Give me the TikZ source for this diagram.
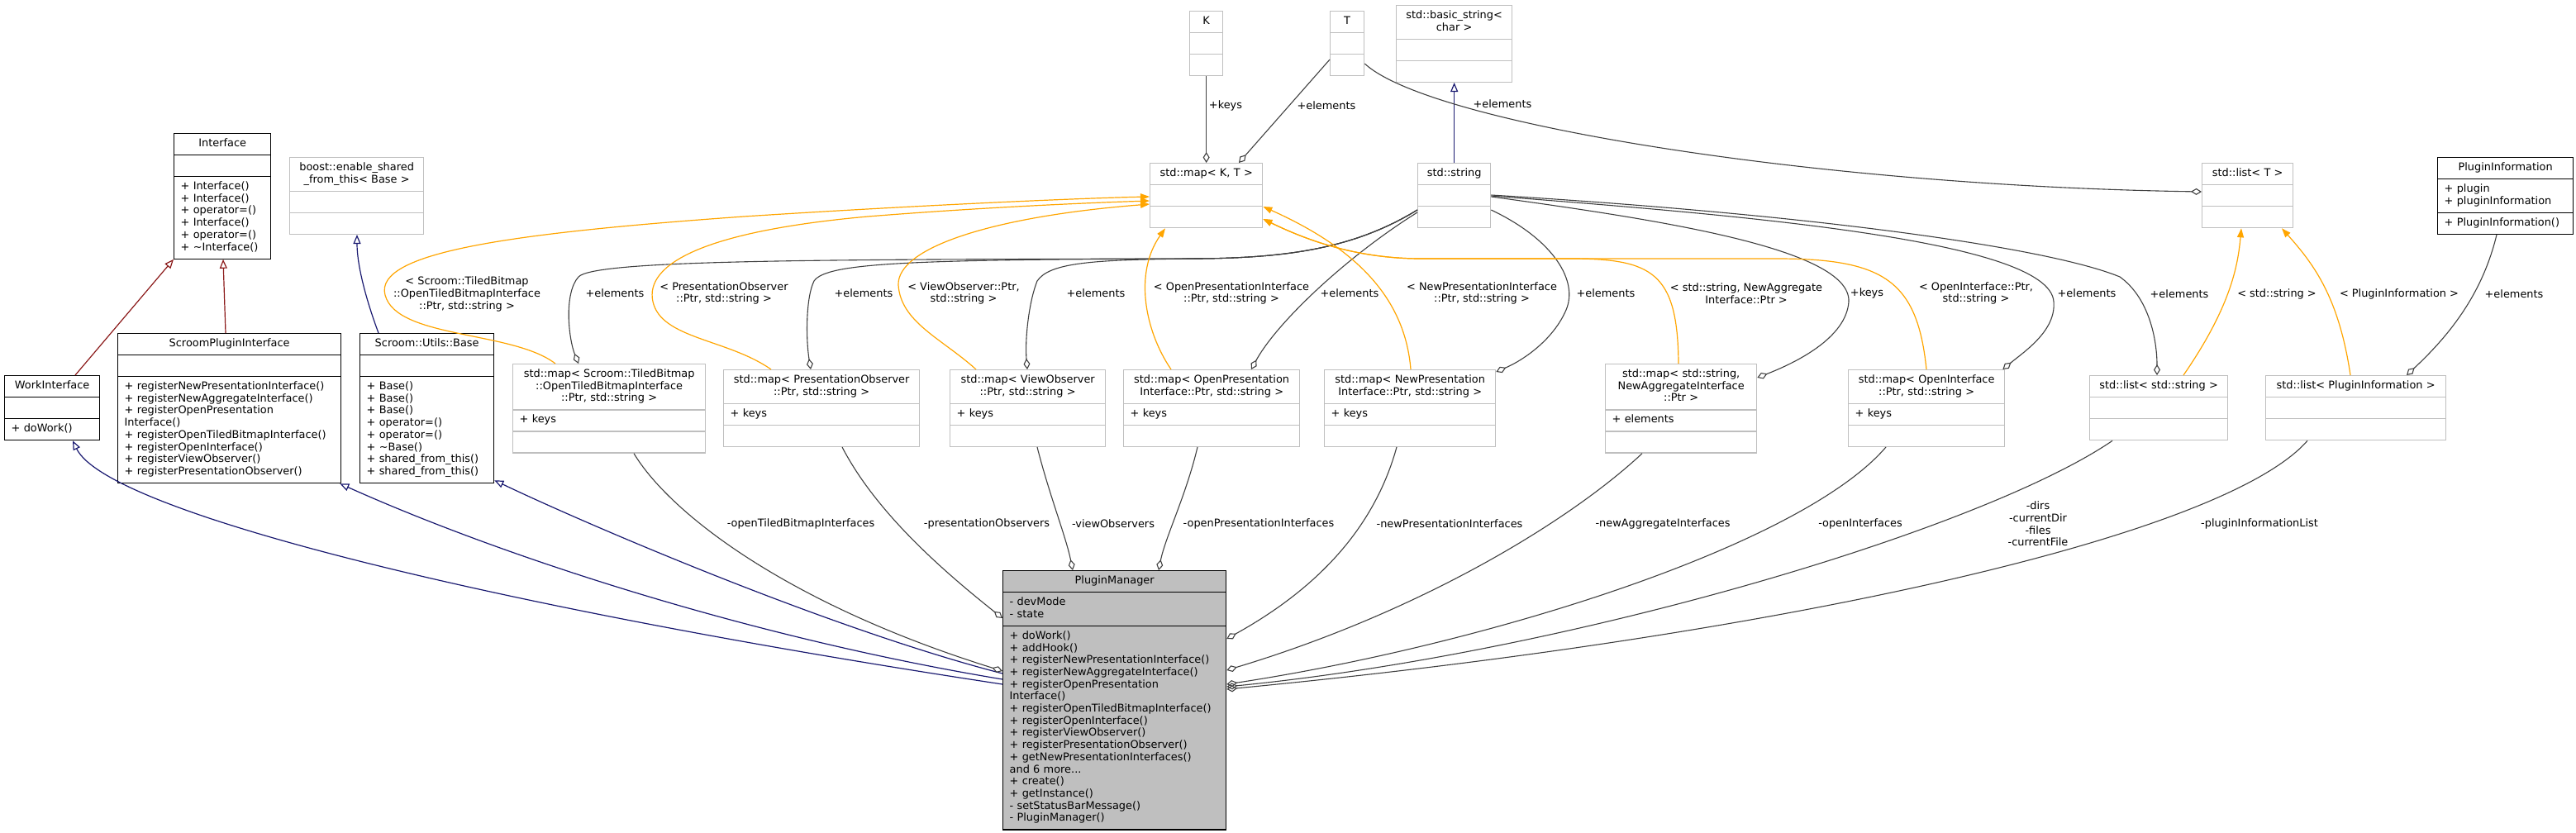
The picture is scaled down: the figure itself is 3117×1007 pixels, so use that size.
\documentclass[tikz,border=0pt]{standalone}
\usepackage{fontspec}
\setmainfont{DejaVu Sans}
\usetikzlibrary{shapes.multipart, arrows.meta, calc}
\definecolor{edgeGrey}{HTML}{404040}
\definecolor{boxGrey}{HTML}{BFBFBF}
\definecolor{inhBlue}{HTML}{191970}
\definecolor{inhRed}{HTML}{8B1A1A}
\definecolor{tmplOrange}{HTML}{FFA500}

\begin{document}
\begin{tikzpicture}[x = 1pt, y = -1pt, font = \fontsize{12.9}{14.7}\selectfont]
\tikzset{
  umlclass/.style = {rectangle split, rectangle split parts = 3, draw, line width = 1.3pt, anchor = north west, inner xsep = 8pt, inner ysep = 5pt, align = left},
  extclass/.style = {umlclass, draw = boxGrey},
  mainclass/.style = {umlclass, fill = boxGrey},
  inherit/.style = {draw = inhBlue, line width = 1.2pt, -{Triangle[open, length = 11pt, width = 9pt]}},
  privinherit/.style = {inherit, draw = inhRed},
  usage/.style = {draw = edgeGrey, line width = 1.1pt, -{Diamond[open, length = 13pt, width = 8pt]}},
  tmpl/.style = {draw = tmplOrange, line width = 1.2pt, -{Triangle[length = 11pt, width = 8pt]}},
  lbl/.style = {align = center, inner sep = 0pt},
}
\useasboundingbox (0,0) rectangle (3117,1007);

\node [umlclass, text width = 101pt] (iface) at (210,161) {\centering\strut Interface\strut\par
  \nodepart{two}\strut
  \nodepart{three}\strut + Interface()\\+ Interface()\\+ operator=()\\+ Interface()\\+ operator=()\\+ \textasciitilde Interface()\strut};
\node [extclass, text width = 146pt] (boostEsft) at (350,190) {\centering\strut boost::enable\_shared\\\_from\_this< Base >\strut\par
  \nodepart{two}\strut
  \nodepart{three}\strut};
\node [umlclass, text width = 99pt] (workIface) at (5,454) {\centering\strut WorkInterface\strut\par
  \nodepart{two}\strut
  \nodepart{three}\strut + doWork()\strut};
\node [umlclass, text width = 254pt] (spi) at (142,403) {\centering\strut ScroomPluginInterface\strut\par
  \nodepart{two}\strut
  \nodepart{three}\strut + registerNewPresentationInterface()\\+ registerNewAggregateInterface()\\+ registerOpenPresentation\\Interface()\\+ registerOpenTiledBitmapInterface()\\+ registerOpenInterface()\\+ registerViewObserver()\\+ registerPresentationObserver()\strut};
\node [umlclass, text width = 146pt] (utilsBase) at (435,403) {\centering\strut Scroom::Utils::Base\strut\par
  \nodepart{two}\strut
  \nodepart{three}\strut + Base()\\+ Base()\\+ Base()\\+ operator=()\\+ operator=()\\+ \textasciitilde Base()\\+ shared\_from\_this()\\+ shared\_from\_this()\strut};

\node [extclass, text width = 24pt] (keyK) at (1439,13) {\centering\strut K\strut\par
  \nodepart{two}\strut
  \nodepart{three}\strut};
\node [extclass, text width = 25pt] (valT) at (1609,13) {\centering\strut T\strut\par
  \nodepart{two}\strut
  \nodepart{three}\strut};
\node [extclass, text width = 124pt] (basicString) at (1689,6) {\centering\strut std::basic\_string<\\char >\strut\par
  \nodepart{two}\strut
  \nodepart{three}\strut};
\node [extclass, text width = 120pt] (mapKT) at (1391,197) {\centering\strut std::map< K, T >\strut\par
  \nodepart{two}\strut
  \nodepart{three}\strut};
\node [extclass, text width = 72pt] (stdString) at (1715,197) {\centering\strut std::string\strut\par
  \nodepart{two}\strut
  \nodepart{three}\strut};
\node [extclass, text width = 94pt] (listT) at (2664,197) {\centering\strut std::list< T >\strut\par
  \nodepart{two}\strut
  \nodepart{three}\strut};
\node [umlclass, text width = 148pt] (pluginInfo) at (2949,190) {\centering\strut PluginInformation\strut\par
  \nodepart{two}\strut + plugin\\+ pluginInformation\strut
  \nodepart{three}\strut + PluginInformation()\strut};

\node [extclass, text width = 217pt] (mapTiled) at (620,440) {\centering\strut std::map< Scroom::TiledBitmap\\::OpenTiledBitmapInterface\\::Ptr, std::string >\strut\par
  \nodepart{two}\strut + keys\strut
  \nodepart{three}\strut};
\node [extclass, text width = 221pt] (mapPresObs) at (875,447) {\centering\strut std::map< PresentationObserver\\::Ptr, std::string >\strut\par
  \nodepart{two}\strut + keys\strut
  \nodepart{three}\strut};
\node [extclass, text width = 172pt] (mapViewObs) at (1149,447) {\centering\strut std::map< ViewObserver\\::Ptr, std::string >\strut\par
  \nodepart{two}\strut + keys\strut
  \nodepart{three}\strut};
\node [extclass, text width = 197pt] (mapOpenPres) at (1359,447) {\centering\strut std::map< OpenPresentation\\Interface::Ptr, std::string >\strut\par
  \nodepart{two}\strut + keys\strut
  \nodepart{three}\strut};
\node [extclass, text width = 191pt] (mapNewPres) at (1602,447) {\centering\strut std::map< NewPresentation\\Interface::Ptr, std::string >\strut\par
  \nodepart{two}\strut + keys\strut
  \nodepart{three}\strut};
\node [extclass, text width = 167pt] (mapNewAgg) at (1942,440) {\centering\strut std::map< std::string,\\NewAggregateInterface\\::Ptr >\strut\par
  \nodepart{two}\strut + elements\strut
  \nodepart{three}\strut};
\node [extclass, text width = 173pt] (mapOpenIf) at (2236,447) {\centering\strut std::map< OpenInterface\\::Ptr, std::string >\strut\par
  \nodepart{two}\strut + keys\strut
  \nodepart{three}\strut};
\node [extclass, text width = 151pt] (listString) at (2528,454) {\centering\strut std::list< std::string >\strut\par
  \nodepart{two}\strut
  \nodepart{three}\strut};
\node [extclass, text width = 202pt] (listPI) at (2741,454) {\centering\strut std::list< PluginInformation >\strut\par
  \nodepart{two}\strut
  \nodepart{three}\strut};

\node [mainclass, text width = 254pt] (pluginManager) at (1213,690) {\centering\strut PluginManager\strut\par
  \nodepart{two}\strut - devMode\\- state\strut
  \nodepart{three}\strut + doWork()\\+ addHook()\\+ registerNewPresentationInterface()\\+ registerNewAggregateInterface()\\+ registerOpenPresentation\\Interface()\\+ registerOpenTiledBitmapInterface()\\+ registerOpenInterface()\\+ registerViewObserver()\\+ registerPresentationObserver()\\+ getNewPresentationInterfaces()\\and 6 more...\\+ create()\\+ getInstance()\\- setStatusBarMessage()\\- PluginManager()\strut};

\draw [privinherit] ($(workIface.north west)+(86,0)$) -- (iface.south west);
\draw [privinherit] ($(spi.north west)+(131,0)$) -- ($(iface.south west)+(60,0)$);
\draw [inherit] ($(utilsBase.north west)+(23,0)$) .. controls (442,360) and (432,320) .. ($(boostEsft.south west)+(82,0)$);
\draw [inherit] (stdString.north) -- (basicString.south);
\draw [inherit] ($(pluginManager.north west)+(0,138)$) .. controls (600,735) and (130,620) .. ($(workIface.south west)+(83,0)$);
\draw [inherit] ($(pluginManager.north west)+(0,132)$) .. controls (900,770) and (600,670) .. ($(spi.south east)+(-2,0)$);
\draw [inherit] ($(pluginManager.north west)+(0,125)$) .. controls (1000,760) and (700,630) .. ($(utilsBase.south east)+(0,-4)$);

\draw [usage] (keyK.south) -- (mapKT.north) node [lbl] at (1483,128) {+keys};
\draw [usage] ($(valT.north west)+(0,59)$) -- ($(mapKT.north west)+(108,0)$) node [lbl] at (1605,128) {+elements};
\draw [usage] ($(valT.north east)+(0,64)$) .. controls (1730,150) and (2200,225) .. ($(listT.north west)+(0,35)$) node [lbl] at (1818,126) {+elements};

\draw [usage] ($(stdString.north west)+(0,57)$) .. controls (1640,300) and (1560,312) .. (1450,313) .. controls (1000,314) and (720,314) .. (700,335) .. controls (682,355) and (688,410) .. ($(mapTiled.north west)+(80,0)$) node [lbl] at (744,355) {+elements};
\draw [usage] ($(stdString.north west)+(0,57)$) .. controls (1640,300) and (1560,312) .. (1450,313) .. controls (1100,314) and (1000,318) .. (985,340) .. controls (975,360) and (975,410) .. ($(mapPresObs.north west)+(106,0)$) node [lbl] at (1045,355) {+elements};
\draw [usage] ($(stdString.north west)+(0,57)$) .. controls (1640,300) and (1560,312) .. (1450,313) .. controls (1320,314) and (1270,318) .. (1255,340) .. controls (1245,365) and (1240,410) .. ($(mapViewObs.north west)+(94,0)$) node [lbl] at (1326,355) {+elements};
\draw [usage] ($(stdString.north west)+(0,60)$) .. controls (1630,310) and (1545,390) .. ($(mapOpenPres.north west)+(155,0)$) node [lbl] at (1633,355) {+elements};
\draw [usage] ($(stdString.north east)+(0,57)$) .. controls (1880,290) and (1910,340) .. (1895,375) .. controls (1880,410) and (1845,435) .. ($(mapNewPres.north east)+(0,3)$) node [lbl] at (1943,355) {+elements};
\draw [usage] ($(stdString.north east)+(0,41)$) .. controls (2000,265) and (2240,300) .. (2237,365) .. controls (2234,410) and (2170,440) .. ($(mapNewAgg.north east)+(0,17)$) node [lbl] at (2259,355) {+keys};
\draw [usage] ($(stdString.north east)+(0,40)$) .. controls (2100,260) and (2480,290) .. (2485,365) .. controls (2488,400) and (2450,425) .. ($(mapOpenIf.north east)+(-3,0)$) node [lbl] at (2525,355) {+elements};
\draw [usage] ($(stdString.north east)+(0,39)$) .. controls (2200,260) and (2480,300) .. (2565,335) .. controls (2600,360) and (2610,410) .. ($(listString.north west)+(82,0)$) node [lbl] at (2637,356) {+elements};
\draw [usage] ($(pluginInfo.south west)+(72,0)$) .. controls (3005,350) and (2970,400) .. ($(listPI.north west)+(171,0)$) node [lbl] at (3042,356) {+elements};

\draw [tmpl] ($(mapTiled.north west)+(52,0)$) .. controls (620,400) and (480,410) .. (466,357) .. controls (452,305) and (620,282) .. (900,262) .. controls (1100,249) and (1300,240) .. ($(mapKT.north west)+(0,41)$) node [lbl] at (565,356) {< Scroom::TiledBitmap\\::OpenTiledBitmapInterface\\::Ptr, std::string >};
\draw [tmpl] ($(mapPresObs.north west)+(58,0)$) .. controls (880,410) and (800,410) .. (790,365) .. controls (780,320) and (850,280) .. (1050,262) .. controls (1200,250) and (1330,245) .. ($(mapKT.north west)+(0,46)$) node [lbl] at (876,355) {< PresentationObserver\\::Ptr, std::string >};
\draw [tmpl] ($(mapViewObs.north west)+(32,0)$) .. controls (1140,410) and (1090,390) .. (1087,345) .. controls (1085,300) and (1200,262) .. ($(mapKT.north west)+(0,50)$) node [lbl] at (1166,355) {< ViewObserver::Ptr,\\std::string >};
\draw [tmpl] ($(mapOpenPres.north west)+(58,0)$) .. controls (1385,400) and (1372,330) .. ($(mapKT.south west)+(19,0)$) node [lbl] at (1490,355) {< OpenPresentationInterface\\::Ptr, std::string >};
\draw [tmpl] ($(mapNewPres.north west)+(105,0)$) .. controls (1700,360) and (1640,300) .. ($(mapKT.north east)+(0,53)$) node [lbl] at (1793,355) {< NewPresentationInterface\\::Ptr, std::string >};
\draw [tmpl] ($(mapNewAgg.north west)+(89,0)$) .. controls (2030,330) and (2000,313) .. (1900,313) -- (1720,313) .. controls (1640,313) and (1580,290) .. ($(mapKT.north east)+(0,68)$) node [lbl] at (2113,355) {< std::string, NewAggregate\\Interface::Ptr >};
\draw [tmpl] ($(mapOpenIf.north west)+(95,0)$) .. controls (2320,340) and (2280,313) .. (2150,313) -- (1720,313) .. controls (1640,313) and (1580,290) .. ($(mapKT.north east)+(0,68)$) node [lbl] at (2391,355) {< OpenInterface::Ptr,\\std::string >};
\draw [tmpl] ($(listString.north west)+(114,0)$) .. controls (2700,370) and (2708,320) .. ($(listT.south west)+(48,0)$) node [lbl] at (2755,356) {< std::string >};
\draw [tmpl] ($(listPI.north west)+(103,0)$) .. controls (2830,360) and (2800,320) .. ($(listT.south west)+(97,0)$) node [lbl] at (2903,356) {< PluginInformation >};

\draw [usage] ($(mapTiled.south west)+(147,0)$) .. controls (810,620) and (950,730) .. ($(pluginManager.north west)+(0,122)$) node [lbl] at (969,634) {-openTiledBitmapInterfaces};
\draw [usage] ($(mapPresObs.south west)+(144,0)$) .. controls (1060,620) and (1140,690) .. ($(pluginManager.north west)+(0,58)$) node [lbl] at (1194,634) {-presentationObservers};
\draw [usage] ($(mapViewObs.south west)+(106,0)$) .. controls (1270,600) and (1290,650) .. ($(pluginManager.north west)+(85,0)$) node [lbl] at (1347,634) {-viewObservers};
\draw [usage] ($(mapOpenPres.south west)+(90,0)$) .. controls (1435,600) and (1410,650) .. ($(pluginManager.north west)+(189,0)$) node [lbl] at (1523,634) {-openPresentationInterfaces};
\draw [usage] ($(mapNewPres.south west)+(88,0)$) .. controls (1660,650) and (1580,720) .. ($(pluginManager.north east)+(0,83)$) node [lbl] at (1754,634) {-newPresentationInterfaces};
\draw [usage] ($(mapNewAgg.south west)+(45,0)$) .. controls (1900,630) and (1720,740) .. ($(pluginManager.north east)+(0,121)$) node [lbl] at (2012,634) {-newAggregateInterfaces};
\draw [usage] ($(mapOpenIf.south west)+(46,0)$) .. controls (2180,660) and (1800,780) .. ($(pluginManager.north east)+(0,138)$) node [lbl] at (2251,634) {-openInterfaces};
\draw [usage] ($(listString.south west)+(28,0)$) .. controls (2400,640) and (1900,790) .. ($(pluginManager.north east)+(0,141)$) node [lbl] at (2466,634) {-dirs\\-currentDir\\-files\\-currentFile};
\draw [usage] ($(listPI.south west)+(51,0)$) .. controls (2690,650) and (2150,770) .. ($(pluginManager.north east)+(0,144)$) node [lbl] at (2734,634) {-pluginInformationList};
\end{tikzpicture}
\end{document}
